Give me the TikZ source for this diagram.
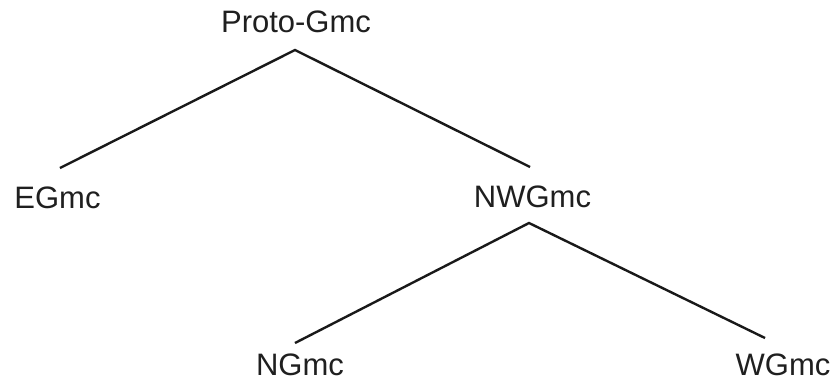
\documentclass[tikz,border=0pt]{standalone}
\usepackage{fontspec}
\setmainfont{Liberation Sans}
\begin{document}
\begin{tikzpicture}[x=1pt,y=-1pt,
  lbl/.style={font=\fontsize{31}{36}\selectfont, inner sep=0pt, anchor=base, text=black!88},
  edge/.style={line width=2.4pt, draw=black!90}]
\useasboundingbox[fill=white] (0,0) rectangle (834,384);
\node[lbl] (proto) at (296,32) {Proto-Gmc};
\node[lbl] (egmc) at (57.5,208) {EGmc};
\node[lbl] (nwgmc) at (532.5,207) {NWGmc};
\node[lbl] (ngmc) at (300,375) {NGmc};
\node[lbl] (wgmc) at (783,375) {WGmc};
\draw[edge] ([shift={(2.5,-40)}]egmc.base) -- ([shift={(-1,18)}]proto.base) -- ([shift={(-2.5,-40)}]nwgmc.base);
\draw[edge] ([shift={(-5,-32)}]ngmc.base) -- ([shift={(-3.5,16)}]nwgmc.base) -- ([shift={(-18,-37)}]wgmc.base);
\end{tikzpicture}
\end{document}
